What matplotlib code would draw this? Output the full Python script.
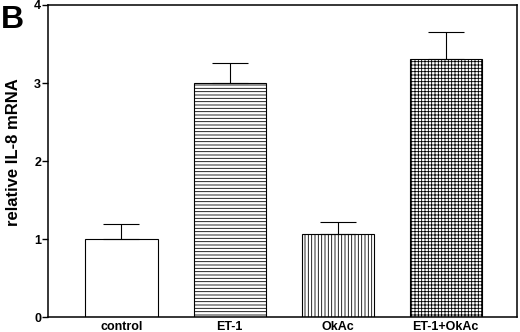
import numpy as np
import matplotlib.pyplot as plt

plt.rcParams['font.family'] = ['Liberation Sans', 'DejaVu Sans']
plt.rcParams['font.weight'] = 'bold'
plt.rcParams['hatch.linewidth'] = 0.6

# data
groups = ['control', 'ET-1', 'OkAc', 'ET-1+OkAc']
means = [1.0, 3.0, 1.06, 3.31]
errs = [0.19, 0.26, 0.16, 0.35]
hatches = ['', '-----', '|||||', '+++++']

fig = plt.figure(figsize=(5.2, 3.32), dpi=100)
ax = fig.add_axes([0.0923, 0.045, 0.902, 0.94])

x = np.arange(len(groups))
for xi, m, e, h in zip(x, means, errs, hatches):
    ax.bar(xi, m, width=0.667, color='white', edgecolor='black',
           linewidth=0.8, hatch=h, zorder=2)
    ax.errorbar(xi, m, yerr=[[0], [e]], fmt='none', ecolor='black',
                elinewidth=0.8, capsize=13, capthick=0.8, zorder=3)

ax.set_xlim(-0.68, 3.66)
ax.set_ylim(0, 4)
ax.set_yticks([0, 1, 2, 3, 4])
ax.set_xticks(x)
ax.set_xticklabels(groups, fontsize=9, fontweight='bold')
ax.tick_params(axis='x', length=0, pad=3)
ax.tick_params(axis='y', length=4, width=1, labelsize=9, pad=1)
for s in ax.spines.values():
    s.set_linewidth(1.1)
ax.set_ylabel('relative IL-8 mRNA', fontsize=12, fontweight='bold')
ax.yaxis.set_label_coords(-0.058, 0.53)

fig.text(0.002, 0.985, 'B', fontsize=23, fontweight='bold', va='top', ha='left')

fig.savefig('out.png', dpi=100)
